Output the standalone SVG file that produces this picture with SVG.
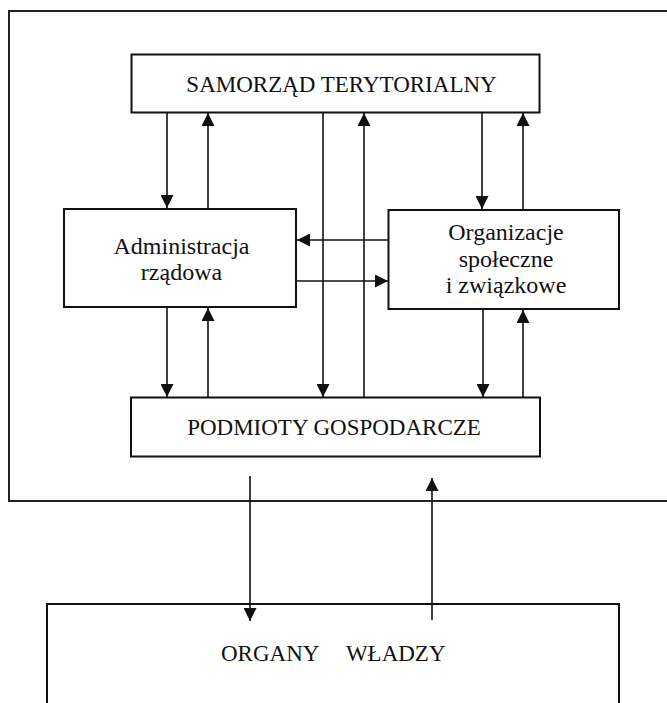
<svg xmlns="http://www.w3.org/2000/svg" width="667" height="703" viewBox="0 0 667 703">
<style>
.box{fill:none;stroke:#111;stroke-width:2}
.frame{fill:none;stroke:#222;stroke-width:2}
.con{stroke:#111;stroke-width:1.6;fill:none}
.t{font-family:"Liberation Serif","Times New Roman",serif;fill:#111;font-size:23px}
.tl{font-family:"Liberation Serif","Times New Roman",serif;fill:#111;font-size:24px}
</style>
<defs>
<marker id="ah" markerUnits="userSpaceOnUse" markerWidth="13" markerHeight="13" refX="12" refY="6" orient="auto" viewBox="0 0 12 12">
<path d="M0,0 L12,6 L0,12 z" fill="#111"/>
</marker>
</defs>
<rect width="667" height="703" fill="#fff"/>
<g id="frame"><rect class="frame" x="9" y="11" width="670" height="490"/></g>
<g id="samorzad">
<rect class="box" x="131.5" y="54.5" width="408" height="58"/>
<text class="t" x="341.5" y="92" text-anchor="middle">SAMORZĄD TERYTORIALNY</text>
</g>
<g id="administracja">
<rect class="box" x="64" y="209" width="232" height="98"/>
<text class="tl" x="181.5" y="254" text-anchor="middle">Administracja</text>
<text class="tl" x="181.5" y="280" text-anchor="middle">rządowa</text>
</g>
<g id="organizacje">
<rect class="box" x="388.5" y="210" width="230.5" height="99"/>
<text class="tl" x="506" y="240" text-anchor="middle">Organizacje</text>
<text class="tl" x="506" y="267" text-anchor="middle">społeczne</text>
<text class="tl" x="506" y="293" text-anchor="middle">i związkowe</text>
</g>
<g id="podmioty">
<rect class="box" x="131" y="397.5" width="409" height="59"/>
<text class="t" x="334" y="435" text-anchor="middle">PODMIOTY GOSPODARCZE</text>
</g>
<g id="organy">
<rect class="box" x="47" y="604" width="572" height="102"/>
<text class="t" x="221" y="661">ORGANY <tspan dx="22">WŁADZY</tspan></text>
</g>
<g id="connectors">
<line class="con" x1="167" y1="113" x2="167" y2="208" marker-end="url(#ah)"/>
<line class="con" x1="208" y1="208" x2="208" y2="113" marker-end="url(#ah)"/>
<line class="con" x1="323" y1="113" x2="323" y2="397" marker-end="url(#ah)"/>
<line class="con" x1="364" y1="397" x2="364" y2="113" marker-end="url(#ah)"/>
<line class="con" x1="482" y1="113" x2="482" y2="209" marker-end="url(#ah)"/>
<line class="con" x1="523" y1="209" x2="523" y2="113" marker-end="url(#ah)"/>
<line class="con" x1="388" y1="240" x2="297" y2="240" marker-end="url(#ah)"/>
<line class="con" x1="296" y1="281" x2="388" y2="281" marker-end="url(#ah)"/>
<line class="con" x1="167" y1="307" x2="167" y2="397" marker-end="url(#ah)"/>
<line class="con" x1="208" y1="397" x2="208" y2="308" marker-end="url(#ah)"/>
<line class="con" x1="483" y1="309" x2="483" y2="397" marker-end="url(#ah)"/>
<line class="con" x1="523" y1="397" x2="523" y2="310" marker-end="url(#ah)"/>
<line class="con" x1="250" y1="476" x2="250" y2="621" marker-end="url(#ah)"/>
<line class="con" x1="432" y1="620" x2="432" y2="478" marker-end="url(#ah)"/>
</g>
</svg>
